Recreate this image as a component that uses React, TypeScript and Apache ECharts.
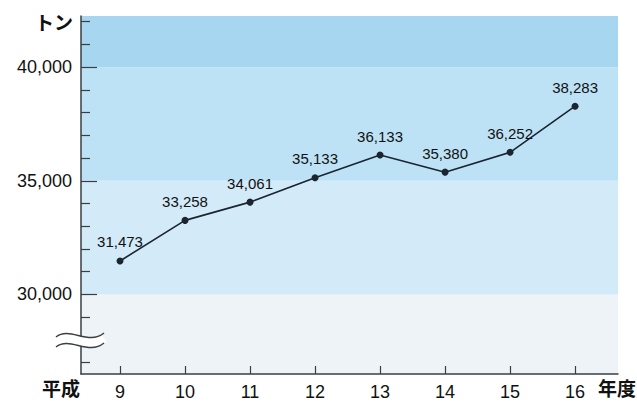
import React, { useEffect, useRef } from "react";
import * as echarts from "echarts";

const years = [9, 10, 11, 12, 13, 14, 15, 16];
const values = [31473, 33258, 34061, 35133, 36133, 35380, 36252, 38283];
const majorTicks = [30000, 35000, 40000];
const minorTicks = [27000, 29000, 31000, 32000, 33000, 34000, 36000, 37000, 38000, 39000, 41000, 42000];
const bandEdges = [26500, 30000, 35000, 40000, 42250];
const bandColors = ["#edf3f6", "#d3ebf8", "#bde2f5", "#a6d6f0"];

const FONT = "'Liberation Sans', Arial, sans-serif";
const JP = "'Noto Sans CJK JP', sans-serif";
const fmt = (v: number) => v.toLocaleString("en-US");

export default function App() {
  const ref = useRef<HTMLDivElement>(null);
  useEffect(() => {
    if (!ref.current) return;
    const chart = echarts.init(ref.current, null, { renderer: "svg" });
    const bands = bandColors.map((c, i) => [
      { yAxis: bandEdges[i], itemStyle: { color: c } },
      { yAxis: bandEdges[i + 1] },
    ]);
    const wave = (y: number, color: string, w: number) => ({
      type: "bezierCurve",
      shape: { x1: 56, y1: y + 2, cpx1: 70, cpy1: y - 9, cpx2: 88, cpy2: y + 11, x2: 104, y2: y - 2 },
      style: { stroke: color, lineWidth: w, fill: "none" },
      z: 100,
    });
    const axisColor = "#3a3f44";
    chart.setOption({
      animation: false,
      grid: { left: 81, right: 19, top: 16, bottom: 30 },
      xAxis: {
        type: "value",
        min: 8.4,
        max: 16.66,
        z: 20,
        splitLine: { show: false },
        axisLine: { show: true, lineStyle: { color: axisColor, width: 1.5 } },
        axisTick: { show: true, inside: true, length: 8, customValues: years, lineStyle: { color: axisColor, width: 1.2 } },
        axisLabel: { customValues: years, fontSize: 18, fontFamily: FONT, color: "#111", margin: 9 },
      },
      yAxis: [
        {
          type: "value",
          min: bandEdges[0],
          max: bandEdges[bandEdges.length - 1],
          z: 20,
          splitLine: { show: false },
          axisLine: { show: true, lineStyle: { color: axisColor, width: 1.5 } },
          axisTick: { show: true, inside: true, length: 9, customValues: minorTicks, lineStyle: { color: axisColor, width: 1.2 } },
          axisLabel: { show: false },
        },
        {
          type: "value",
          position: "left",
          min: bandEdges[0],
          max: bandEdges[bandEdges.length - 1],
          z: 20,
          splitLine: { show: false },
          axisLine: { show: false },
          axisTick: { show: true, inside: true, length: 16, customValues: majorTicks, lineStyle: { color: axisColor, width: 1.2 } },
          axisLabel: { customValues: majorTicks, formatter: (v: number) => fmt(v), fontSize: 18, fontFamily: FONT, color: "#111", margin: 9 },
        },
      ],
      graphic: [
        { type: "text", right: 637 - 73, top: 12, style: { text: "トン", fontSize: 19, fontFamily: JP, fontWeight: "bold", fill: "#111", textAlign: "right" } },
        { type: "text", left: 42, top: 378, style: { text: "平成", fontSize: 19, fontFamily: JP, fontWeight: "bold", fill: "#111" } },
        { type: "text", left: 598, top: 378, style: { text: "年度", fontSize: 19, fontFamily: JP, fontWeight: "bold", fill: "#111" } },
        wave(340, "#ffffff", 9),
        wave(335, axisColor, 1.5),
        wave(345, axisColor, 1.5),
      ],
      series: [
        {
          type: "line",
          data: years.map((y, i) => [y, values[i]]),
          symbol: "circle",
          symbolSize: 7,
          itemStyle: { color: "#1b2530" },
          lineStyle: { color: "#1b2530", width: 1.6 },
          label: {
            show: true,
            position: "top",
            distance: 8,
            formatter: (p: any) => fmt(p.value[1]),
            fontSize: 15,
            fontFamily: FONT,
            color: "#111",
          },
          markArea: { silent: true, data: bands },
          z: 10,
        },
      ],
    });
    return () => chart.dispose();
  }, []);
  return <div ref={ref} style={{ width: 637, height: 404, position: "absolute", left: 0, top: 0 }} />;
}
